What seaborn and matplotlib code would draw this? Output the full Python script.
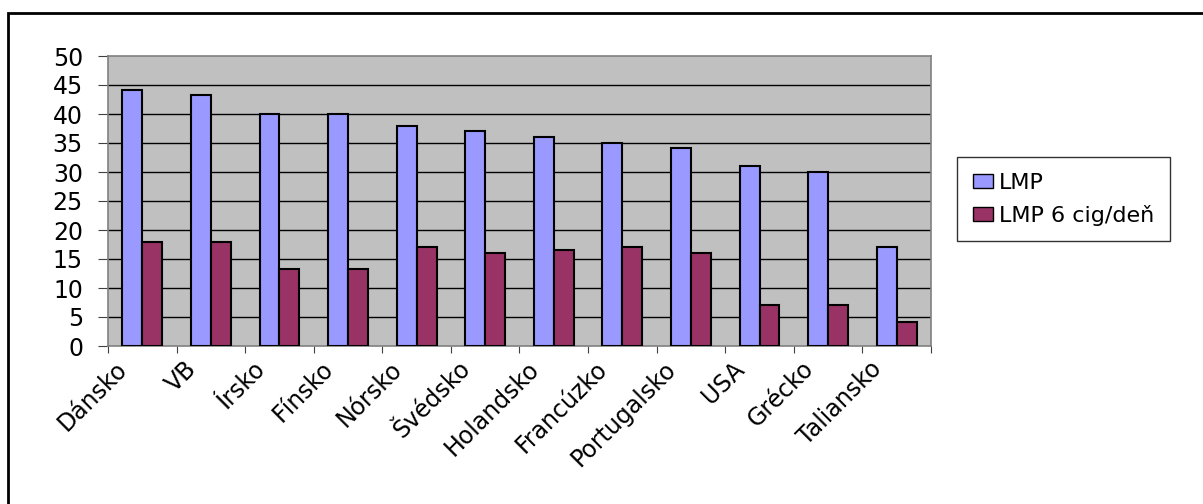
import matplotlib
matplotlib.use("Agg")
import matplotlib.pyplot as plt
import matplotlib.patches as mpatches
import matplotlib.transforms as mtransforms
import numpy as np
import pandas as pd
import seaborn as sns

# Countries on the category axis
countries = ["Dánsko", "VB", "Írsko", "Fínsko", "Nórsko", "Švédsko",
             "Holandsko", "Francúzko", "Portugalsko", "USA", "Grécko", "Taliansko"]
# Series values
lmp = [44.2, 43.2, 40, 40, 38, 37, 36, 35, 34.2, 31, 30, 17]
lmp_6cig = [18, 18, 13.2, 13.2, 17, 16, 16.6, 17, 16, 7, 7, 4.2]
series_names = ["LMP", "LMP 6 cig/deň"]
y_ticks = [0, 5, 10, 15, 20, 25, 30, 35, 40, 45, 50]

df = pd.DataFrame({
    "country": countries * 2,
    "value": lmp + lmp_6cig,
    "series": [series_names[0]] * len(countries) + [series_names[1]] * len(countries),
})

sns.set_theme(style="white")
plt.rcParams["font.family"] = ["DejaVu Sans"]
plt.rcParams["text.color"] = "black"
plt.rcParams["xtick.labelcolor"] = "black"
plt.rcParams["ytick.labelcolor"] = "black"

W, H = 1203, 504
fig = plt.figure(figsize=(W / 100, H / 100), dpi=100)
fig.patch.set_facecolor("white")

ax = fig.add_axes([108 / W, 1 - 346 / H, (931 - 108) / W, (346 - 56) / H])
ax.set_facecolor("#C0C0C0")

palette = {series_names[0]: "#9999FF", series_names[1]: "#993366"}
sns.barplot(data=df, x="country", y="value", hue="series", order=countries,
            hue_order=series_names, palette=palette, width=0.58, dodge=True,
            edgecolor="black", linewidth=1.5, saturation=1, ax=ax, zorder=3)

ax.set_xlim(-0.5, len(countries) - 0.5)
ax.set_ylim(0, 50)
ax.set_yticks(y_ticks)
ax.set_yticklabels([str(v) for v in y_ticks], fontsize=17, color="black")
ax.set_xlabel("")
ax.set_ylabel("")

# horizontal gridlines
for v in y_ticks[1:-1]:
    ax.axhline(v, color="black", lw=1, zorder=1)

# frame of plot area
for side in ["top", "right", "left", "bottom"]:
    ax.spines[side].set_visible(True)
    ax.spines[side].set_color("#808080")
    ax.spines[side].set_linewidth(1.2)

ax.tick_params(axis="y", which="major", direction="out", length=7, width=0.8,
               color="#404040", pad=11, left=True)

# category ticks between groups, labels at group centers
ax.set_xticks(np.arange(len(countries)))
ax.set_xticks(np.arange(len(countries) + 1) - 0.5, minor=True)
ax.tick_params(axis="x", which="major", length=0, pad=2)
ax.tick_params(axis="x", which="minor", direction="out", length=5, width=0.8,
               color="#404040", bottom=True)
labels = ax.set_xticklabels(countries, fontsize=17, rotation=45, ha="right",
                            rotation_mode="anchor", color="black")
shift = mtransforms.ScaledTranslation(-27 / 100, -8 / 100, fig.dpi_scale_trans)
for lab in labels:
    lab.set_transform(lab.get_transform() + shift)

# legend
handles, lbls = ax.get_legend_handles_labels()
if ax.get_legend() is not None:
    ax.get_legend().remove()
leg = fig.legend(handles, lbls, loc="upper left",
                 bbox_to_anchor=(957 / W, 1 - 157 / H), borderaxespad=0,
                 fontsize=16, frameon=True, fancybox=False, edgecolor="black",
                 handlelength=0.9, handleheight=0.6, handletextpad=0.3,
                 borderpad=0.7, labelspacing=0.55, labelcolor="black")
leg.get_frame().set_linewidth(1)
for h in leg.legend_handles:
    h.set_edgecolor("black")
    h.set_linewidth(1)

# outer chart border
fig.patches.append(mpatches.Rectangle((8 / W, -0.2), 1.2, 1 - 13 / H + 0.2,
                                      transform=fig.transFigure, fill=False,
                                      edgecolor="black", lw=2, zorder=0))

fig.savefig("out.png", dpi=100)
